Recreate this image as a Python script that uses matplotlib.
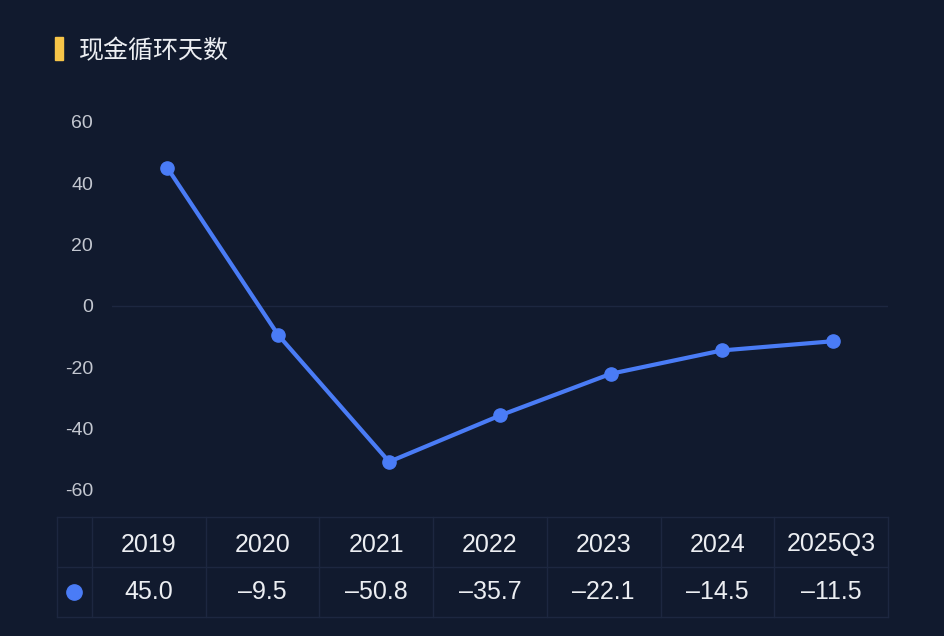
import matplotlib.pyplot as plt
from matplotlib.patches import Rectangle

plt.rcParams['font.family'] = ['Liberation Sans', 'Noto Sans CJK SC', 'DejaVu Sans']

# data
periods = ['2019', '2020', '2021', '2022', '2023', '2024', '2025Q3']
ccc_days = [45.0, -9.5, -50.8, -35.7, -22.1, -14.5, -11.5]
yticks = [-60, -40, -20, 0, 20, 40, 60]
title = '现金循环天数'

bg = '#111a2e'
blue = '#4a7cf6'
grid_c = '#1d2740'
text_c = '#eceef2'
tick_c = '#c3c7d0'

W, H = 945, 636
fig = plt.figure(figsize=(W / 100, H / 100), dpi=100, facecolor=bg)

def box(x0, y0, x1, y1):
    # pixel box (top-left origin) -> figure fraction rect
    return [x0 / W, 1 - y1 / H, (x1 - x0) / W, (y1 - y0) / H]

# title with yellow marker
fig.patches.append(Rectangle((55 / W, 1 - 60 / H), 8 / W, 23 / H,
                             transform=fig.transFigure, color='#f7c548'))
fig.text(79 / W, 1 - 51 / H, title, color=text_c, fontsize=18, weight='medium',
         va='center', ha='left', family=['Noto Sans CJK SC', 'DejaVu Sans'])

# line chart
ax = fig.add_axes(box(112, 122, 888, 490))
ax.set_facecolor(bg)
x = list(range(len(periods)))
ax.plot(x, ccc_days, color=blue, lw=3, marker='o', ms=9.5, zorder=3)
ax.axhline(0, color=grid_c, lw=1, zorder=1)
ax.set_xlim(-0.5, len(periods) - 0.5)
ax.set_ylim(-60, 60)
ax.set_yticks(yticks)
ax.set_yticklabels([str(v) for v in yticks])
ax.set_xticks([])
ax.tick_params(axis='y', length=0, pad=13.5, labelsize=14, labelcolor=tick_c)
for s in ax.spines.values():
    s.set_visible(False)

# data table below
tx = fig.add_axes(box(57, 517, 888, 617))
tx.set_facecolor(bg)
first_w = 35
col_w = (831 - first_w) / len(periods)
tx.set_xlim(0, 831)
tx.set_ylim(2, 0)
tx.axis('off')
edges = [0, first_w] + [first_w + col_w * (i + 1) for i in range(len(periods))]
for e in edges:
    tx.plot([e, e], [0, 2], color=grid_c, lw=1, clip_on=False)
for r in [0, 1, 2]:
    tx.plot([0, 831], [r, r], color=grid_c, lw=1, clip_on=False)
tx.plot([first_w / 2], [1.5], 'o', color=blue, ms=11)
for i, (p, v) in enumerate(zip(periods, ccc_days)):
    cx = first_w + col_w * (i + 0.5)
    tx.text(cx, 0.55, p, color=text_c, fontsize=18, ha='center', va='center')
    lab = f'{v:.1f}'.replace('-', '\u2013')
    tx.text(cx, 1.5, lab, color=text_c, fontsize=18, ha='center', va='center')

fig.savefig('out.png', dpi=100, facecolor=bg)
